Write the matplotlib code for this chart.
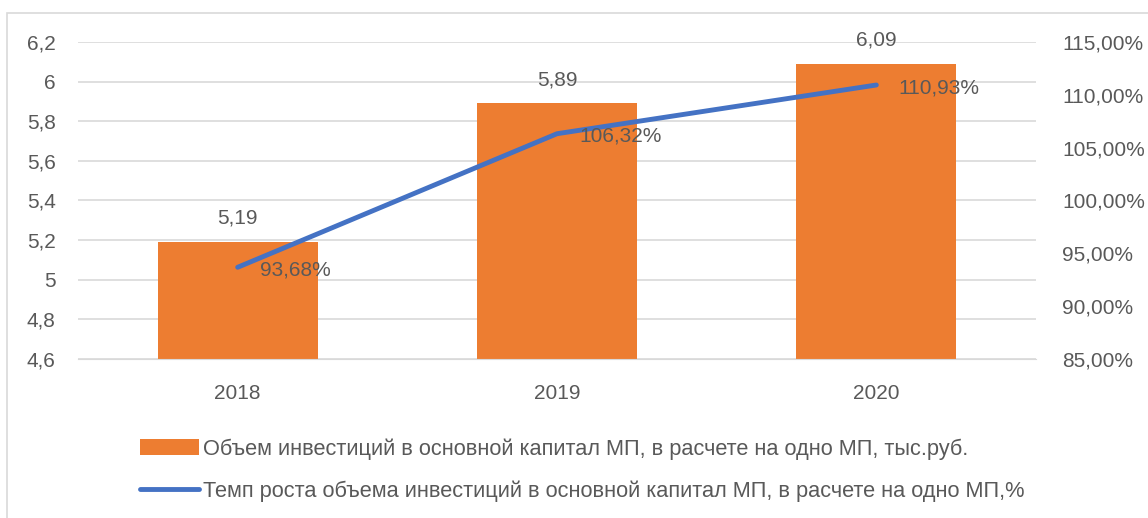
import numpy as np
import matplotlib.pyplot as plt
from matplotlib.patches import Rectangle

years = ['2018', '2019', '2020']
invest = [5.19, 5.89, 6.09]
growth = [93.68, 106.32, 110.93]
invest_labels = ['5,19', '5,89', '6,09']
growth_labels = ['93,68%', '106,32%', '110,93%']
left_ticks = [4.6, 4.8, 5.0, 5.2, 5.4, 5.6, 5.8, 6.0, 6.2]
left_tick_labels = ['4,6', '4,8', '5', '5,2', '5,4', '5,6', '5,8', '6', '6,2']
right_ticks = [85, 90, 95, 100, 105, 110, 115]
right_tick_labels = ['85,00%', '90,00%', '95,00%', '100,00%', '105,00%', '110,00%', '115,00%']
bar_name = 'Объем инвестиций в основной капитал МП, в расчете на одно МП, тыс.руб.'
line_name = 'Темп роста объема инвестиций в основной капитал МП, в расчете на одно МП,%'

orange = '#ED7D31'
blue = '#4472C4'
txt = '#595959'
grid = '#D9D9D9'

plt.rcParams['font.family'] = ['Liberation Sans', 'DejaVu Sans']
fs = 15
lfs = 15.7

fig = plt.figure(figsize=(11.48, 5.18), dpi=100)
fig.patches.append(Rectangle((7 / 1148, -0.1), 1.2, 1 - 13 / 518 + 0.1,
                             transform=fig.transFigure, fill=False,
                             edgecolor=grid, linewidth=1.2))

ax = fig.add_axes([78 / 1148, 1 - 359 / 518, (1036 - 78) / 1148, (359 - 42) / 518])
x = np.arange(len(years))
bars = ax.bar(x, invest, width=0.5, color=orange, label=bar_name, zorder=2)
ax.set_xlim(-0.5, 2.5)
ax.set_ylim(4.6, 6.2)
ax.set_yticks(left_ticks)
ax.set_yticklabels(left_tick_labels)
ax.set_xticks(x)
ax.set_xticklabels(years)
ax.grid(axis='y', color=grid, linewidth=1.2, zorder=0)
ax.set_axisbelow(True)
for s in ax.spines.values():
    s.set_visible(False)
ax.spines['bottom'].set_visible(True)
ax.spines['bottom'].set_color(grid)
ax.tick_params(axis='both', length=0, labelsize=fs, colors=txt)
ax.tick_params(axis='y', pad=16)
ax.tick_params(axis='x', pad=18)

for xi, v, lab in zip(x, invest, invest_labels):
    ax.annotate(lab, (xi, v), xytext=(0, 17), textcoords='offset points',
                ha='center', va='center', fontsize=fs, color=txt)

ax2 = ax.twinx()
line, = ax2.plot(x, growth, color=blue, linewidth=3.5, solid_capstyle='round',
                 label=line_name, zorder=3)
ax2.set_ylim(85, 115)
ax2.set_yticks(right_ticks)
ax2.set_yticklabels(right_tick_labels)
for s in ax2.spines.values():
    s.set_visible(False)
ax2.tick_params(axis='y', length=0, labelsize=fs, colors=txt, pad=19)

for xi, v, lab in zip(x, growth, growth_labels):
    ax2.annotate(lab, (xi, v), xytext=(16, -2), textcoords='offset points',
                 ha='left', va='center', fontsize=fs, color=txt)

fig.legend([bars, line], [bar_name, line_name], loc='upper left',
           bbox_to_anchor=(140 / 1148, 1 - 438 / 518), frameon=False,
           fontsize=lfs, labelcolor=txt, handlelength=2.7, handletextpad=0.2,
           labelspacing=0.95, borderpad=0, borderaxespad=0)

fig.savefig('out.png', dpi=100)
